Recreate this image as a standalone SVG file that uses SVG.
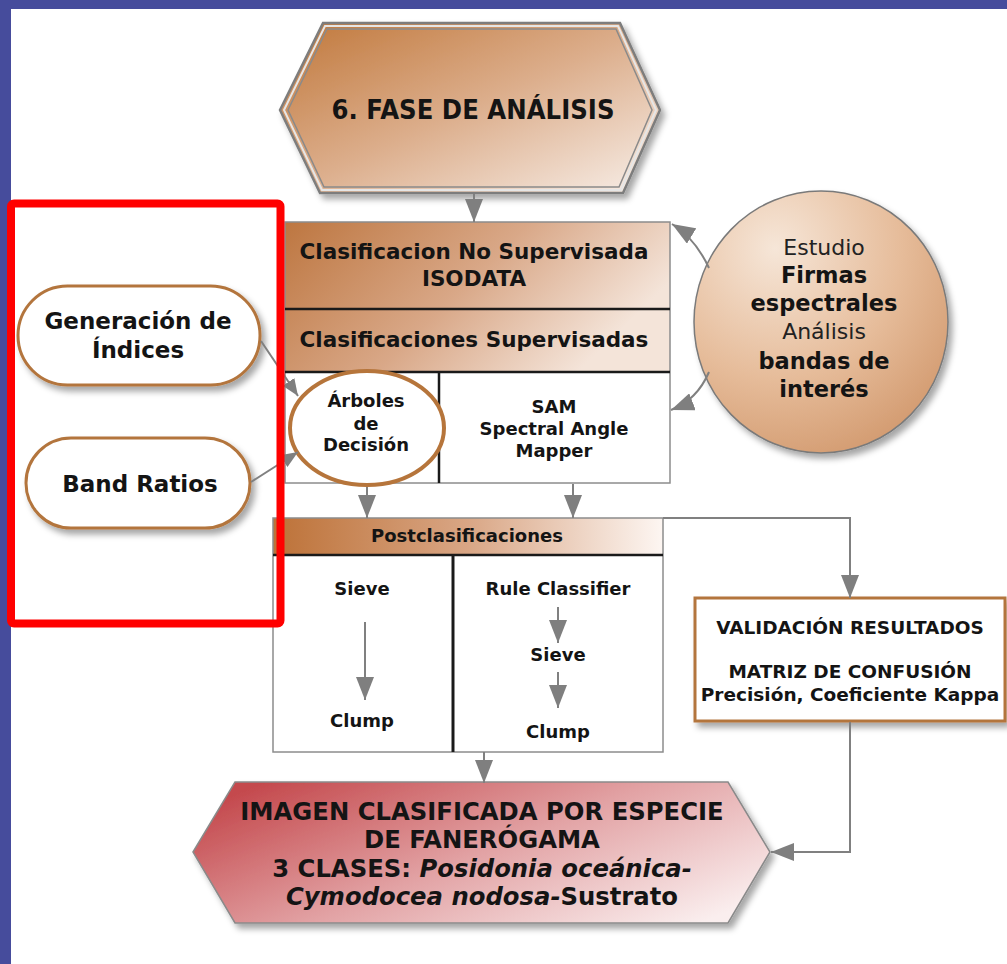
<svg xmlns="http://www.w3.org/2000/svg" width="1007" height="964" viewBox="0 0 1007 964">
  <defs>
    <style>
      .b { font-family: "DejaVu Sans", Verdana, sans-serif; font-weight: bold; fill: #141414; text-anchor: middle; }
      .n { font-family: "DejaVu Sans", Verdana, sans-serif; font-weight: normal; fill: #222; text-anchor: middle; }
      .con { fill: none; stroke: #808080; stroke-width: 2; }
      .div { stroke: #1a1a1a; stroke-width: 2.5; }
    </style>
    <linearGradient id="gTop" x1="0" y1="0" x2="1" y2="1">
      <stop offset="0" stop-color="#c0773a"/>
      <stop offset="0.5" stop-color="#dcae8c"/>
      <stop offset="1" stop-color="#f8efe9"/>
    </linearGradient>
    <linearGradient id="gHead" x1="0" y1="0" x2="1" y2="0.4">
      <stop offset="0" stop-color="#bd7640"/>
      <stop offset="0.55" stop-color="#d9a888"/>
      <stop offset="1" stop-color="#f4e4d9"/>
    </linearGradient>
    <linearGradient id="gPost" x1="0" y1="0" x2="1" y2="0">
      <stop offset="0" stop-color="#bd7238"/>
      <stop offset="0.5" stop-color="#d9a685"/>
      <stop offset="1" stop-color="#fdf6f2"/>
    </linearGradient>
    <radialGradient id="gCirc" cx="0.32" cy="0.22" r="0.9">
      <stop offset="0" stop-color="#f6e6d8"/>
      <stop offset="0.55" stop-color="#e6bc9a"/>
      <stop offset="1" stop-color="#d0966a"/>
    </radialGradient>
    <linearGradient id="gBot" x1="0" y1="0.2" x2="1" y2="0.8">
      <stop offset="0" stop-color="#c4494d"/>
      <stop offset="0.5" stop-color="#e2a2a4"/>
      <stop offset="1" stop-color="#faeeee"/>
    </linearGradient>
    <filter id="sh" x="-10%" y="-10%" width="125%" height="130%">
      <feDropShadow dx="4" dy="5" stdDeviation="3" flood-color="#000" flood-opacity="0.35"/>
    </filter>
    <marker id="ah" markerUnits="userSpaceOnUse" markerWidth="24" markerHeight="18" refX="23" refY="9" orient="auto">
      <path d="M0,0 L23,9 L0,18 z" fill="#7f7f7f"/>
    </marker>
    <marker id="ahs" markerUnits="userSpaceOnUse" markerWidth="18" markerHeight="14" refX="17" refY="7" orient="auto">
      <path d="M0,0 L17,7 L0,14 z" fill="#7f7f7f"/>
    </marker>
  </defs>

  <!-- background & frame -->
  <rect x="0" y="0" width="1007" height="964" fill="#ffffff"/>
  <rect x="0" y="0" width="1007" height="9" fill="#464c9c"/>
  <rect x="0" y="0" width="11" height="964" fill="#464c9c"/>

  <!-- top hexagon -->
  <g id="fase">
    <polygon points="280,110 323,23 620,23 660,110 623,193 320,193" fill="url(#gTop)" stroke="#7d7d7d" stroke-width="2.5" filter="url(#sh)"/>
    <polygon points="284,110 325,26 618,26 656,110 621,190 322,190" fill="none" stroke="#e6e6e6" stroke-width="2"/>
    <polygon points="288,110 327,29 616,29 652,110 619,187 324,187" fill="none" stroke="#8a8a8a" stroke-width="1.5"/>
    <text class="b" x="473" y="119" font-size="27" textLength="283" lengthAdjust="spacingAndGlyphs">6. FASE DE ANÁLISIS</text>
  </g>

  <!-- classification box -->
  <g id="clasificacion">
    <rect x="285" y="222" width="385" height="150" fill="url(#gHead)"/>
    <rect x="285" y="372" width="385" height="111" fill="#ffffff"/>
    <rect x="285" y="222" width="385" height="261" fill="none" stroke="#8c8c8c" stroke-width="1.5"/>
    <line class="div" x1="285" y1="309" x2="670" y2="309"/>
    <line class="div" x1="285" y1="372" x2="670" y2="372"/>
    <line class="div" x1="439" y1="372" x2="439" y2="483"/>
    <text class="b" x="474" y="259" font-size="21.5">Clasificacion No Supervisada</text>
    <text class="b" x="474" y="286" font-size="21.5">ISODATA</text>
    <text class="b" x="474" y="347" font-size="21.5">Clasificaciones Supervisadas</text>
  </g>

  <g id="arboles">
    <ellipse cx="367" cy="428" rx="77" ry="57" fill="#ffffff" stroke="#b6753b" stroke-width="4"/>
    <text class="b" x="366" y="407" font-size="18">Árboles</text>
    <text class="b" x="366" y="430" font-size="18">de</text>
    <text class="b" x="366" y="451" font-size="18">Decisión</text>
  </g>

  <g id="sam">
    <text class="b" x="554" y="413" font-size="18">SAM</text>
    <text class="b" x="554" y="435" font-size="18">Spectral Angle</text>
    <text class="b" x="554" y="457" font-size="18">Mapper</text>
  </g>

  <!-- circle -->
  <g id="estudio">
    <ellipse cx="821" cy="322" rx="127" ry="131" fill="url(#gCirc)" stroke="#7a7a7a" stroke-width="1.5" filter="url(#sh)"/>
    <text class="n" x="824" y="255" font-size="22">Estudio</text>
    <text class="b" x="824" y="283" font-size="22.5">Firmas</text>
    <text class="b" x="824" y="311" font-size="22.5">espectrales</text>
    <text class="n" x="824" y="339" font-size="22">Análisis</text>
    <text class="b" x="824" y="369" font-size="22.5">bandas de</text>
    <text class="b" x="824" y="397" font-size="22.5">interés</text>
  </g>

  <!-- left pills -->
  <g id="indices">
    <rect x="18" y="286" width="242" height="99" rx="49.5" fill="#ffffff" stroke="#b3753d" stroke-width="3" filter="url(#sh)"/>
    <text class="b" x="138" y="329" font-size="23">Generación de</text>
    <text class="b" x="138" y="358" font-size="23">Índices</text>
  </g>
  <g id="bandratios">
    <rect x="26" y="438" width="224" height="90" rx="45" fill="#ffffff" stroke="#b3753d" stroke-width="3" filter="url(#sh)"/>
    <text class="b" x="140" y="492" font-size="23">Band Ratios</text>
  </g>

  <!-- postclassification -->
  <g id="postclasificaciones">
    <rect x="273" y="518" width="390" height="37" fill="url(#gPost)"/>
    <rect x="273" y="555" width="390" height="197" fill="#ffffff"/>
    <rect x="273" y="518" width="390" height="234" fill="none" stroke="#8c8c8c" stroke-width="1.5"/>
    <line class="div" x1="273" y1="555" x2="663" y2="555"/>
    <line stroke="#1a1a1a" stroke-width="3" x1="453" y1="555" x2="453" y2="752"/>
    <text class="b" x="467" y="542" font-size="18">Postclasificaciones</text>
    <text class="b" x="362" y="595" font-size="18">Sieve</text>
    <text class="b" x="362" y="727" font-size="18">Clump</text>
    <text class="b" x="558" y="595" font-size="18">Rule Classifier</text>
    <text class="b" x="558" y="661" font-size="18">Sieve</text>
    <text class="b" x="558" y="738" font-size="18">Clump</text>
  </g>

  <!-- validation -->
  <g id="validacion">
    <rect x="695" y="598" width="310" height="123" fill="#ffffff" stroke="#b3753d" stroke-width="3" filter="url(#sh)"/>
    <text class="b" x="850" y="634" font-size="18.5">VALIDACIÓN RESULTADOS</text>
    <text class="b" x="850" y="678" font-size="18.5">MATRIZ DE CONFUSIÓN</text>
    <text class="b" x="850" y="701" font-size="18.5">Precisión, Coeficiente Kappa</text>
  </g>

  <!-- bottom hexagon -->
  <g id="imagen">
    <polygon points="193,852 235,782 728,782 770,852 728,923 235,923" fill="url(#gBot)" stroke="#8a8a8a" stroke-width="1.5" filter="url(#sh)"/>
    <text class="b" x="482" y="820" font-size="24.3">IMAGEN CLASIFICADA POR ESPECIE</text>
    <text class="b" x="482" y="848" font-size="24.3">DE FANERÓGAMA</text>
    <text class="b" x="482" y="877" font-size="24.3">3 CLASES: <tspan font-style="italic">Posidonia oceánica-</tspan></text>
    <text class="b" x="482" y="905" font-size="24.3"><tspan font-style="italic">Cymodocea nodosa-</tspan>Sustrato</text>
  </g>

  <!-- connectors -->
  <g id="connectors">
    <path class="con" d="M474,194 L474,222" marker-end="url(#ah)"/>
    <path class="con" d="M261,341 L298,396" marker-end="url(#ahs)"/>
    <path class="con" d="M251,482 L298,452" marker-end="url(#ahs)"/>
    <path class="con" d="M709,268 Q695,238 672,224" marker-end="url(#ah)"/>
    <path class="con" d="M709,372 Q697,400 671,410" marker-end="url(#ah)"/>
    <path class="con" d="M367,487 L367,518" marker-end="url(#ah)"/>
    <path class="con" d="M573,484 L573,518" marker-end="url(#ah)"/>
    <path class="con" d="M663,518 L850,518 L850,598" marker-end="url(#ah)"/>
    <path class="con" d="M850,722 L850,852 L771,852" marker-end="url(#ah)"/>
    <path class="con" d="M484,752 L484,783" marker-end="url(#ah)"/>
    <path class="con" d="M365,622 L365,700" marker-end="url(#ah)"/>
    <path class="con" d="M558,607 L558,643" marker-end="url(#ah)"/>
    <path class="con" d="M558,672 L558,708" marker-end="url(#ah)"/>
  </g>

  <!-- red highlight frame -->
  <rect x="11" y="203.5" width="269.5" height="420" rx="3" fill="none" stroke="#ff0000" stroke-width="8"/>
</svg>
